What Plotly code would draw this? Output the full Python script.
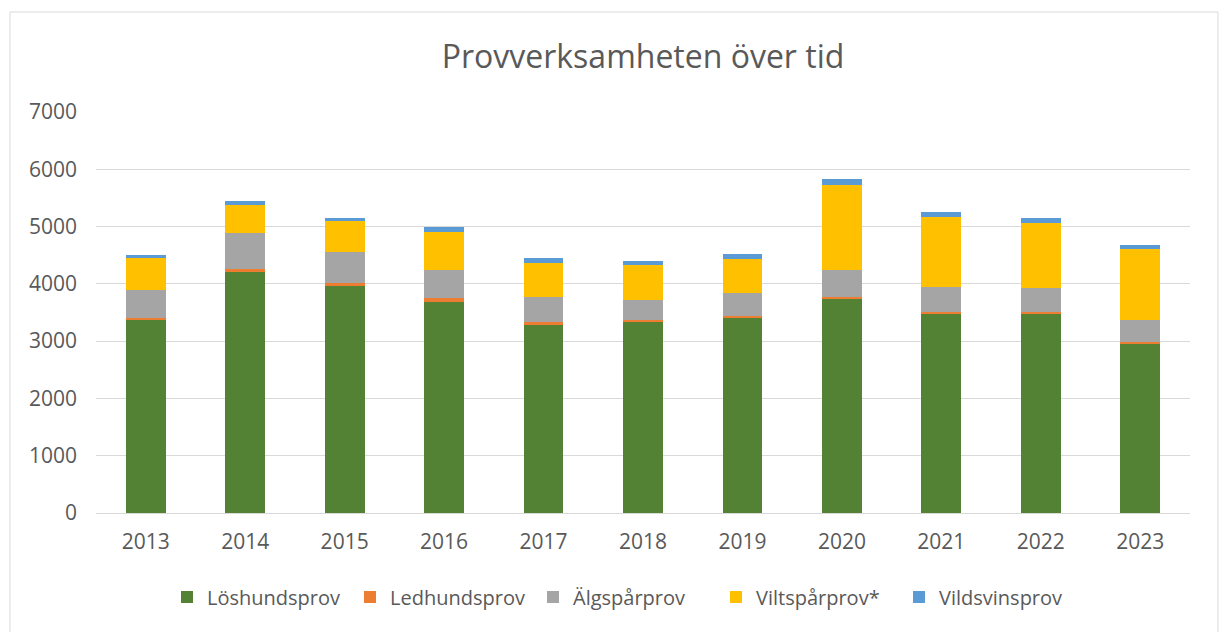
import plotly.graph_objects as go

years = ["2013", "2014", "2015", "2016", "2017", "2018", "2019", "2020", "2021", "2022", "2023"]
loshund = [3366, 4222, 3965, 3692, 3284, 3331, 3406, 3745, 3476, 3476, 2952]
ledhund = [40, 29, 47, 53, 47, 35, 30, 23, 35, 35, 35]
algspar = [490, 629, 536, 500, 431, 361, 396, 466, 437, 409, 374]
viltspar = [560, 495, 542, 663, 594, 600, 600, 1490, 1217, 1146, 1245]
vildsvin = [53, 70, 58, 88, 87, 70, 87, 105, 82, 76, 70]

series = [
    ("Löshundsprov", loshund, "#548235"),
    ("Ledhundsprov", ledhund, "#ED7D31"),
    ("Älgspårprov", algspar, "#A5A5A5"),
    ("Viltspårprov*", viltspar, "#FFC000"),
    ("Vildsvinsprov", vildsvin, "#5B9BD5"),
]

fig = go.Figure()
for name, vals, col in series:
    fig.add_trace(go.Bar(name=name, x=years, y=vals, marker=dict(color=col, line=dict(width=0))))

# page body has an 8px margin; figure coordinates are screen minus 8
W, H = 1220, 624
L, R, T, B = 88, 1182, 104, 505
pw, ph = R - L, B - T

def px(x):
    return (x - L) / pw

def py(y):
    return (B - y) / ph

fig.update_layout(
    width=W, height=H,
    barmode="stack",
    bargap=0.6,
    paper_bgcolor="white",
    plot_bgcolor="white",
    margin=dict(l=L, r=W - R, t=T, b=H - B, pad=0),
    font=dict(family="Open Sans, Noto Sans, sans-serif", color="#595959", size=21),
    title=dict(text="Provverksamheten över tid", x=0.5, xanchor="center",
               xref="paper",
               y=1 - 49 / H, yanchor="middle",
               font=dict(size=32, color="#595959")),
    xaxis=dict(showgrid=False, showline=True, linecolor="#d9d9d9", linewidth=1,
               ticks="", tickfont=dict(size=21, color="#595959"), ticklabelstandoff=10),
    yaxis=dict(range=[0, 7000], dtick=1000, showgrid=True, gridcolor="#d9d9d9",
               gridwidth=1, zeroline=False, showline=False, ticks="",
               tickfont=dict(size=21, color="#595959"), ticklabelstandoff=18),
    legend=dict(orientation="h", x=px(159), xanchor="left", y=py(589), yanchor="middle",
                font=dict(size=20, color="#595959"), traceorder="normal",
                itemwidth=30, tracegroupgap=0,
                entrywidth=138, entrywidthmode="pixels"),
    showlegend=True,
    shapes=[dict(type="rect", xref="paper", yref="paper",
                 x0=px(2), x1=px(1210), y0=py(626), y1=py(4),
                 line=dict(color="#d9d9d9", width=1), fillcolor="rgba(0,0,0,0)", layer="below")],
)

fig.write_html("out.html")
